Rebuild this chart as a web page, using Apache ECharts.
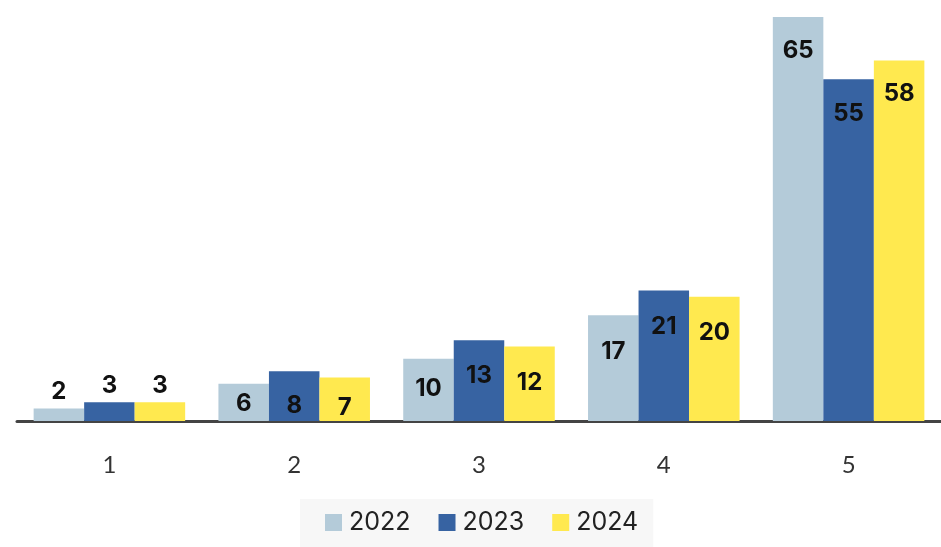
<!DOCTYPE html>
<html>
<head>
<meta charset="utf-8">
<script src="https://cdn.jsdelivr.net/npm/echarts@6/dist/echarts.min.js"></script>
<style>html,body{margin:0;padding:0;background:#fff}#c{width:941px;height:547px}</style>
</head>
<body>
<div id="c"></div>
<script>
const categories = ['1', '2', '3', '4', '5'];
const seriesNames = ['2022', '2023', '2024'];
const values2022 = [2, 6, 10, 17, 65];
const values2023 = [3, 8, 13, 21, 55];
const values2024 = [3, 7, 12, 20, 58];
const colors = ['#b4cbd9', '#3763a2', '#ffe94f'];

// label distance below bar top (insideTop); small bars get their label on top
const labelDist = {
  '2022': [null, 8, 18, 24, 22],
  '2023': [null, 23, 24, 24, 23],
  '2024': [null, 18, 24, 24, 21]
};

function build(name, vals) {
  return vals.map((v, i) => {
    const d = labelDist[name][i];
    if (d === null) {
      return { value: v, label: { position: 'top', distance: 5 } };
    }
    return { value: v, label: { position: 'insideTop', distance: d } };
  });
}

const chart = echarts.init(document.getElementById('c'));
chart.setOption({
  animation: false,
  grid: { left: 17, width: 932, top: 17, height: 404 },
  legend: {
    data: seriesNames,
    bottom: 0,
    left: 300,
    itemWidth: 17,
    itemHeight: 17,
    itemGap: 28,
    padding: [11, 15, 12, 25],
    backgroundColor: '#f7f7f7',
    icon: 'rect',
    textStyle: { fontSize: 25, color: '#222', fontFamily: 'Inter, Roboto, sans-serif', padding: [0, 0, 0, 2] }
  },
  xAxis: {
    type: 'category',
    data: categories,
    axisLine: { lineStyle: { color: '#444', width: 3 } },
    axisTick: { show: false },
    axisLabel: { fontSize: 24, color: '#333', margin: 32, fontFamily: 'Lato, Roboto, sans-serif' }
  },
  yAxis: {
    type: 'value',
    min: 0,
    max: 65,
    show: false,
    splitLine: { show: false }
  },
  series: [
    { name: '2022', values: values2022 },
    { name: '2023', values: values2023 },
    { name: '2024', values: values2024 }
  ].map((s, idx) => ({
    name: s.name,
    type: 'bar',
    data: build(s.name, s.values),
    barGap: '0%',
    barCategoryGap: '18%',
    itemStyle: { color: colors[idx] },
    label: {
      show: true,
      color: '#111',
      fontSize: 24,
      fontWeight: 'bold',
      fontFamily: 'Inter, Roboto, sans-serif'
    }
  }))
});
</script>
</body>
</html>
